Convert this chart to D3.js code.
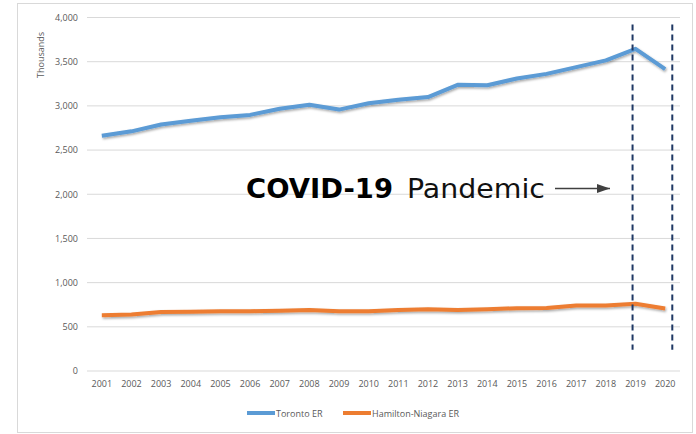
<!DOCTYPE html>
<html>
<head>
<meta charset="utf-8">
<script src="https://cdn.jsdelivr.net/npm/d3@7"></script>
<style>
  body { margin: 0; background: white; }
  .gridline { stroke: #d9d9d9; stroke-width: 1; }
  .tick text { fill: #595959; font-family: "Open Sans", sans-serif; font-size: 9px; }
</style>
</head>
<body>
<div id="rysWykres"></div>
<script>
var years = ["2001","2002","2003","2004","2005","2006","2007","2008","2009","2010",
             "2011","2012","2013","2014","2015","2016","2017","2018","2019","2020"];
var toronto = [2662, 2712, 2790, 2832, 2872, 2898, 2968, 3012, 2958, 3030,
               3070, 3100, 3238, 3234, 3310, 3362, 3438, 3515, 3645, 3415];
var hamilton = [632, 640, 668, 670, 676, 676, 682, 690, 676, 676,
                690, 698, 690, 700, 710, 714, 740, 740, 760, 708];
var yTicks = [0, 500, 1000, 1500, 2000, 2500, 3000, 3500, 4000];
var pandemicYears = ["2019", "2020"];
var seriesNames = ["Toronto ER", "Hamilton-Niagara ER"];
var seriesColors = ["#5b9bd5", "#ed7d31"];

var margin = { top: 17.5, left: 87, right: 16, bottom: 63 };
var width = 680 - 87, height = 371 - 17.5;

var svg = d3.select("#rysWykres")
  .append("svg")
  .attr("width", 696)
  .attr("height", 434);

svg.append("rect")
  .attr("x", 17.5).attr("y", 3.5)
  .attr("width", 675).attr("height", 429)
  .attr("fill", "white").attr("stroke", "#d9d9d9");

var defs = svg.append("defs");
var f = defs.append("filter").attr("id", "cien").attr("x", "-5%").attr("y", "-50%").attr("width", "110%").attr("height", "200%");
f.append("feDropShadow").attr("dx", 1).attr("dy", 1.5).attr("stdDeviation", 1)
  .attr("flood-color", "#000").attr("flood-opacity", 0.35);
defs.append("marker").attr("id", "grot")
  .attr("viewBox", "0 0 10 10").attr("refX", 10).attr("refY", 5)
  .attr("markerWidth", 13).attr("markerHeight", 13).attr("markerUnits", "userSpaceOnUse")
  .attr("orient", "auto")
  .append("path").attr("d", "M0,1.5 L10,5 L0,8.5 Z").attr("fill", "#404040");

var g = svg.append("g")
  .attr("transform", "translate(" + margin.left + "," + margin.top + ")");

var xscale = d3.scaleBand().domain(years).range([0, width]);
var yscale = d3.scaleLinear().domain([0, 4000]).range([height, 0]);

g.append("g").selectAll("line")
  .data(yTicks).enter().append("line")
  .attr("class", "gridline")
  .attr("x1", 0).attr("x2", width)
  .attr("y1", d => yscale(d)).attr("y2", d => yscale(d));

g.append("g")
  .call(d3.axisLeft(yscale).tickValues(yTicks).tickFormat(d3.format(",")).tickSize(0).tickPadding(9))
  .call(s => s.select(".domain").remove());

g.append("g")
  .attr("transform", "translate(0," + height + ")")
  .call(d3.axisBottom(xscale).tickSize(0).tickPadding(10))
  .call(s => s.select(".domain").remove());

svg.append("text")
  .attr("transform", "translate(44,55) rotate(-90)")
  .attr("text-anchor", "middle")
  .attr("fill", "#595959")
  .style("font-family", "'Open Sans', sans-serif")
  .style("font-size", "9px")
  .text("Thousands");

var linia = d3.line()
  .x((d, i) => xscale(years[i]) + xscale.bandwidth() / 2)
  .y(d => yscale(d));

[toronto, hamilton].forEach(function (seria, k) {
  g.append("path")
    .datum(seria)
    .attr("fill", "none")
    .attr("stroke", seriesColors[k])
    .attr("stroke-width", 4)
    .attr("stroke-linejoin", "round")
    .attr("filter", "url(#cien)")
    .attr("d", linia);
});

// pionowe kreski pandemii: pierwsza tuz przed srodkiem 2019, druga pod koniec 2020
var przesuniecie = [0.4, 0.74];
g.append("g").selectAll("line")
  .data(pandemicYears).enter().append("line")
  .attr("x1", (d, i) => xscale(d) + xscale.bandwidth() * przesuniecie[i])
  .attr("x2", (d, i) => xscale(d) + xscale.bandwidth() * przesuniecie[i])
  .attr("y1", yscale(3920)).attr("y2", yscale(240))
  .attr("stroke", "#1f3864").attr("stroke-width", 2)
  .attr("stroke-dasharray", "6,4");

var napis = svg.append("text")
  .attr("y", 198)
  .attr("fill", "#000")
  .style("font-family", "'DejaVu Sans', Verdana, sans-serif")
  .style("font-size", "26px");
napis.append("tspan").attr("x", 246).attr("font-weight", "bold")
  .attr("textLength", 147).attr("lengthAdjust", "spacingAndGlyphs").text("COVID-19");
napis.append("tspan").attr("x", 407).attr("fill", "#111")
  .attr("textLength", 138).attr("lengthAdjust", "spacingAndGlyphs").text("Pandemic");

svg.append("line")
  .attr("x1", 555).attr("x2", 610)
  .attr("y1", 188.5).attr("y2", 188.5)
  .attr("stroke", "#404040").attr("stroke-width", 1.5)
  .attr("marker-end", "url(#grot)");

// legenda
var legX = [247, 343];
var leg = svg.append("g").selectAll("g")
  .data(seriesNames).enter().append("g")
  .attr("transform", (d, i) => "translate(" + legX[i] + ",413)");
leg.append("line")
  .attr("x1", 0).attr("x2", 28)
  .attr("stroke", (d, i) => seriesColors[i]).attr("stroke-width", 4);
leg.append("text")
  .attr("x", 29).attr("y", 3.5)
  .attr("fill", "#595959")
  .style("font-family", "'Open Sans', sans-serif")
  .style("font-size", "9px")
  .text(d => d);
</script>
</body>
</html>
